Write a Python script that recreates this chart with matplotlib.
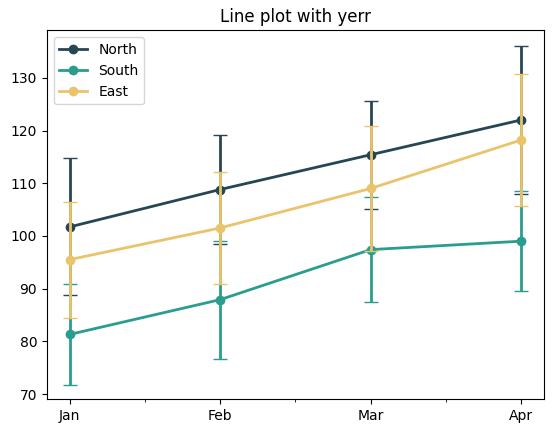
import matplotlib
matplotlib.use('Agg')
import matplotlib.pyplot as plt
import numpy as np

months = ['Jan', 'Feb', 'Mar', 'Apr']
north = [101.7, 108.8, 115.4, 122.0]
north_err = [13.0, 10.3, 10.2, 14.0]
south = [81.3, 87.9, 97.4, 99.0]
south_err = [9.6, 11.2, 10.0, 9.5]
east = [95.5, 101.5, 109.0, 118.2]
east_err = [11.0, 10.6, 11.8, 12.5]

fig, ax = plt.subplots(figsize=(5.52, 4.34), dpi=100)
fig.subplots_adjust(left=0.085, right=0.985, top=0.93, bottom=0.08)
x = np.arange(len(months))
handles = []
for vals, err, color, name in [(north, north_err, '#264653', 'North'),
                               (south, south_err, '#2a9d8f', 'South'),
                               (east, east_err, '#e9c46a', 'East')]:
    line, = ax.plot(x, vals, color=color, marker='o', linewidth=2, label=name)
    ax.errorbar(x, vals, yerr=err, color=color, fmt='none', elinewidth=2, capsize=5)
    handles.append(line)

ax.set_xticks(x)
ax.set_xticklabels(months)
ax.set_xticks(x[:-1] + 0.5, minor=True)
ax.set_ylim(69, 139)
ax.set_title('Line plot with yerr')
ax.legend(handles=handles, loc='upper left')
fig.savefig('out.png')
